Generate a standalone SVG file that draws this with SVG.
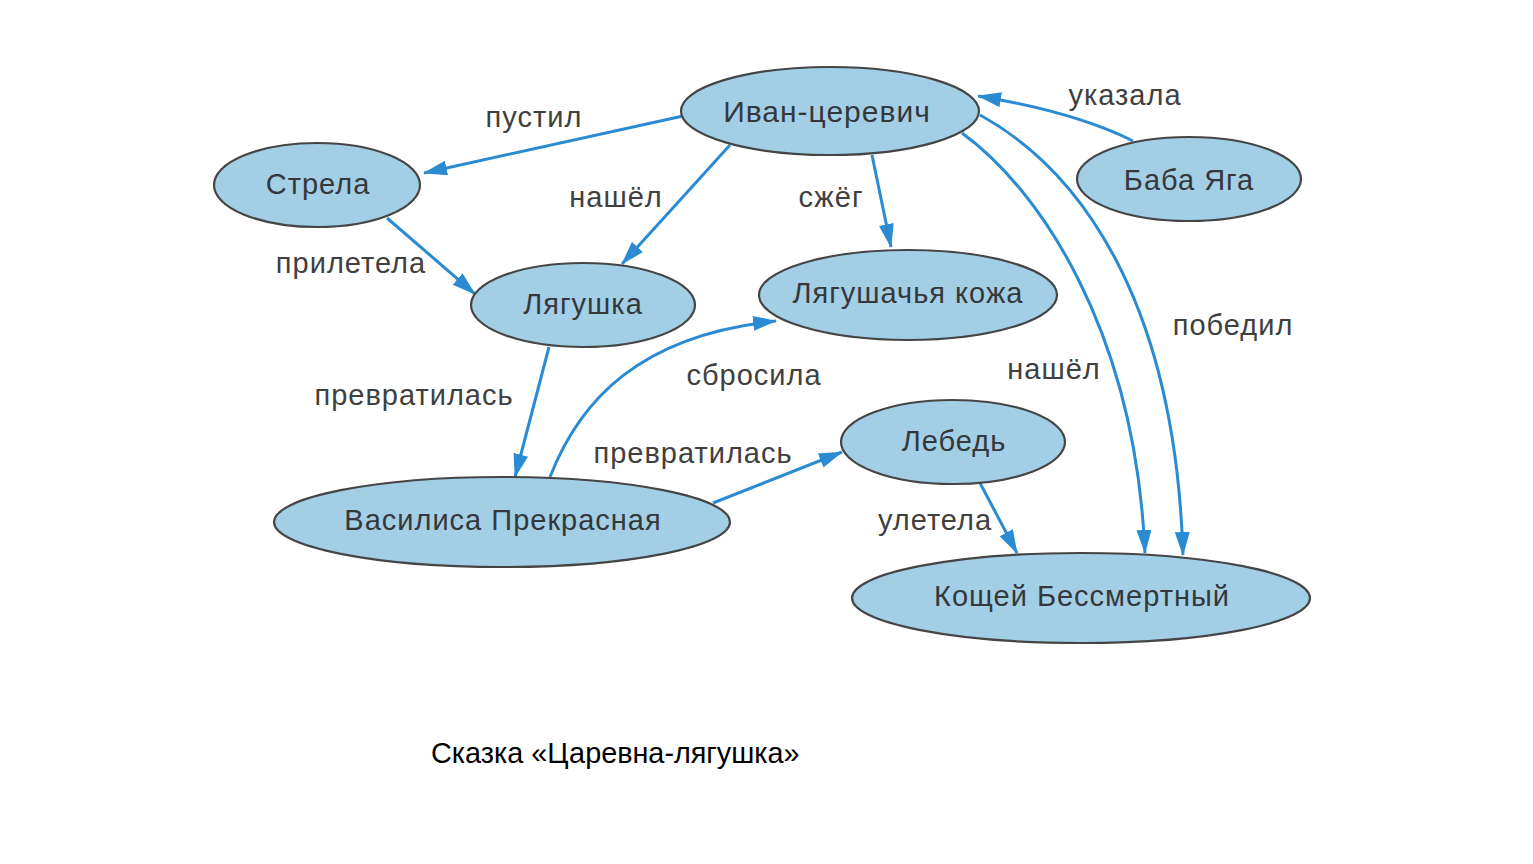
<svg xmlns="http://www.w3.org/2000/svg" width="1533" height="864" viewBox="0 0 1533 864">
<defs>
<marker id="arr" markerUnits="userSpaceOnUse" markerWidth="26" markerHeight="16" refX="23" refY="7.5" orient="auto">
<path d="M0,0 L24,7.5 L0,15 z" fill="#2a8bd2"/>
</marker>
</defs>
<style>
.node ellipse{fill:#a3cfe6;stroke:#454545;stroke-width:2.2}
.node text{font-family:"Liberation Sans",Arial,sans-serif;font-size:29px;letter-spacing:1px;fill:#35383b;text-anchor:middle}
.edge{fill:none;stroke:#2a8bd2;stroke-width:3;marker-end:url(#arr)}
.lbl{font-family:"Liberation Sans",Arial,sans-serif;font-size:29px;letter-spacing:1px;fill:#404040;text-anchor:middle}
.cap{font-family:"Liberation Sans",Arial,sans-serif;font-size:28.8px;fill:#000}
</style>
<rect width="1533" height="864" fill="#fff"/>
<g id="connectors">
<path class="edge" d="M683,116 L424,173"/>
<path class="edge" d="M387,218 L475,294"/>
<path class="edge" d="M730,145 L622,264"/>
<path class="edge" d="M872,155 L891,247"/>
<path class="edge" d="M1133,141 Q1075,112 978,96"/>
<path class="edge" d="M962,133 C1040,190 1135,330 1145,553"/>
<path class="edge" d="M980,115 C1080,170 1175,300 1183,555"/>
<path class="edge" d="M549,347 L515,477"/>
<path class="edge" d="M550,477 C580,400 640,335 776,321"/>
<path class="edge" d="M713,503 L842,452"/>
<path class="edge" d="M980,483 L1017,553"/>
<g id="edge-labels">
<text class="lbl" x="534" y="127">пустил</text>
<text class="lbl" x="1125" y="105">указала</text>
<text class="lbl" x="616" y="207">нашёл</text>
<text class="lbl" x="831" y="207">сжёг</text>
<text class="lbl" x="351" y="273">прилетела</text>
<text class="lbl" x="1233" y="335">победил</text>
<text class="lbl" x="1054" y="379">нашёл</text>
<text class="lbl" x="754" y="385">сбросила</text>
<text class="lbl" x="414" y="405">превратилась</text>
<text class="lbl" x="693" y="463">превратилась</text>
<text class="lbl" x="935" y="530">улетела</text>
</g>
</g>
<g id="n-ivan" class="node"><ellipse cx="830" cy="111" rx="149" ry="44"/><text x="827" y="122" style="font-size:30px">Иван-церевич</text></g>
<g id="n-strela" class="node"><ellipse cx="317" cy="185" rx="103" ry="42"/><text x="318" y="194">Стрела</text></g>
<g id="n-baba" class="node"><ellipse cx="1189" cy="179" rx="112" ry="42"/><text x="1189" y="190">Баба Яга</text></g>
<g id="n-frog" class="node"><ellipse cx="583" cy="305" rx="112" ry="42"/><text x="583" y="314">Лягушка</text></g>
<g id="n-skin" class="node"><ellipse cx="908" cy="295" rx="149" ry="45"/><text x="908" y="303">Лягушачья кожа</text></g>
<g id="n-swan" class="node"><ellipse cx="953" cy="442" rx="112" ry="42"/><text x="954" y="451">Лебедь</text></g>
<g id="n-vasilisa" class="node"><ellipse cx="502" cy="522" rx="228" ry="45"/><text x="503" y="530">Василиса Прекрасная</text></g>
<g id="n-koschei" class="node"><ellipse cx="1081" cy="598" rx="229" ry="45"/><text x="1082" y="606">Кощей Бессмертный</text></g>
<text class="cap" x="431" y="763">Сказка «Царевна-лягушка»</text>
</svg>
